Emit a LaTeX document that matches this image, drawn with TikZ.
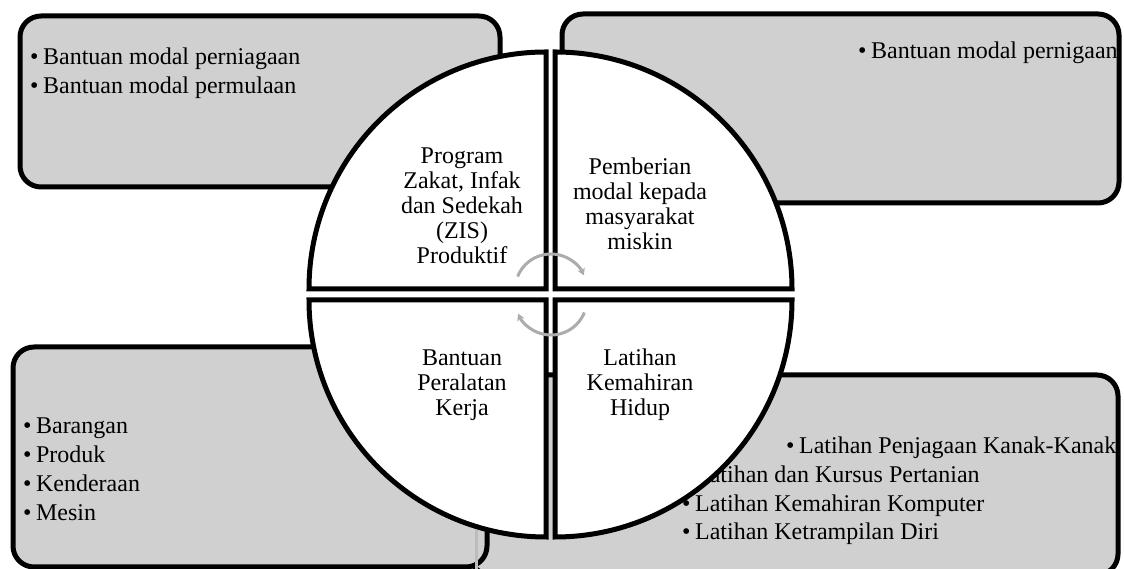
\documentclass[tikz,border=0pt]{standalone}
\usepackage{fontspec}
\setmainfont{Liberation Serif}
\usetikzlibrary{arrows.meta}
\definecolor{boxgray}{RGB}{208,208,208}
\definecolor{arrgray}{RGB}{172,172,172}
\definecolor{stripgray}{RGB}{188,188,188}
\begin{document}
\begin{tikzpicture}[x=1pt,y=1pt,
  infobox/.style={draw=black,line width=5pt,fill=boxgray,rounded corners=21pt},
  quad/.style={draw=black,line width=5pt,fill=white,line join=miter},
  itemtxt/.style={anchor=base west,inner sep=0pt,font=\fontsize{24}{29}\selectfont},
  quadtxt/.style={anchor=base,inner sep=0pt,font=\fontsize{24}{25}\selectfont},
  cyc/.style={draw=arrgray,line width=3pt,-{Stealth[length=7pt,width=8pt]}}
]
\useasboundingbox (0,0) rectangle (1124,569);
\clip (0,0) rectangle (1124,569);
% boxes
\draw[infobox] (470,194) rectangle (1118,-6);
\draw[infobox] (13,222) rectangle (487,2);
\draw[stripgray,line width=3pt] (476,39) -- (476,-2);
\draw[infobox] (20,553) rectangle (500,382);
\draw[infobox] (562,555) rectangle (1119,366);
% box texts
\node[itemtxt] (tl1) at (30,504) {•\hspace{4.5pt}Bantuan modal perniagaan};
\node[itemtxt] (tl2) at (30,475) {•\hspace{4.5pt}Bantuan modal permulaan};
\node[itemtxt] (tr1) at (858,510) {•\hspace{4.5pt}Bantuan modal pernigaan};
\node[itemtxt] (bl1) at (23,135) {•\hspace{4.5pt}Barangan};
\node[itemtxt] (bl2) at (23,106) {•\hspace{4.5pt}Produk};
\node[itemtxt] (bl3) at (23,77) {•\hspace{4.5pt}Kenderaan};
\node[itemtxt] (bl4) at (23,48) {•\hspace{4.5pt}Mesin};
\node[itemtxt] (br1) at (786,115) {•\hspace{4.5pt}Latihan Penjagaan Kanak-Kanak};
\node[itemtxt] (br2) at (682,86) {•\hspace{4.5pt}Latihan dan Kursus Pertanian};
\node[itemtxt] (br3) at (682,57) {•\hspace{4.5pt}Latihan Kemahiran Komputer};
\node[itemtxt] (br4) at (682,29) {•\hspace{4.5pt}Latihan Ketrampilan Diri};
% quadrants
\coordinate (qtl) at (546,280);
\coordinate (qtr) at (555,280);
\coordinate (qbl) at (546,269);
\coordinate (qbr) at (555,269);
\draw[quad] (qtl) -- ++(-237,0) arc[start angle=180,end angle=90,radius=237] -- cycle;
\draw[quad] (qtr) -- ++(0,237) arc[start angle=90,end angle=0,radius=237] -- cycle;
\draw[quad] (qbl) -- ++(-237,0) arc[start angle=180,end angle=270,radius=237] -- cycle;
\draw[quad] (qbr) -- ++(237,0) arc[start angle=0,end angle=-90,radius=237] -- cycle;
% quadrant texts
\foreach \t [count=\i] in {Program,{Zakat, Infak},dan Sedekah,(ZIS),Produktif}
  \node[quadtxt] (qa\i) at (462,{430-25*\i}) {\t};
\foreach \t [count=\i] in {Pemberian,modal kepada,masyarakat,miskin}
  \node[quadtxt] (qb\i) at (640,{419-25*\i}) {\t};
\foreach \t [count=\i] in {Bantuan,Peralatan,Kerja}
  \node[quadtxt] (qc\i) at (462,{228-25*\i}) {\t};
\foreach \t [count=\i] in {Latihan,Kemahiran,Hidup}
  \node[quadtxt] (qd\i) at (640,{228-25*\i}) {\t};
% cycle arrows
\coordinate (ca) at (551,279);
\coordinate (cb) at (551,270);
\draw[cyc] ([shift={(158:36)}]ca) arc[start angle=158,end angle=24,radius=36];
\draw[cyc] ([shift={(-22:36)}]cb) arc[start angle=-22,end angle=-156,radius=36];
\end{tikzpicture}
\end{document}
